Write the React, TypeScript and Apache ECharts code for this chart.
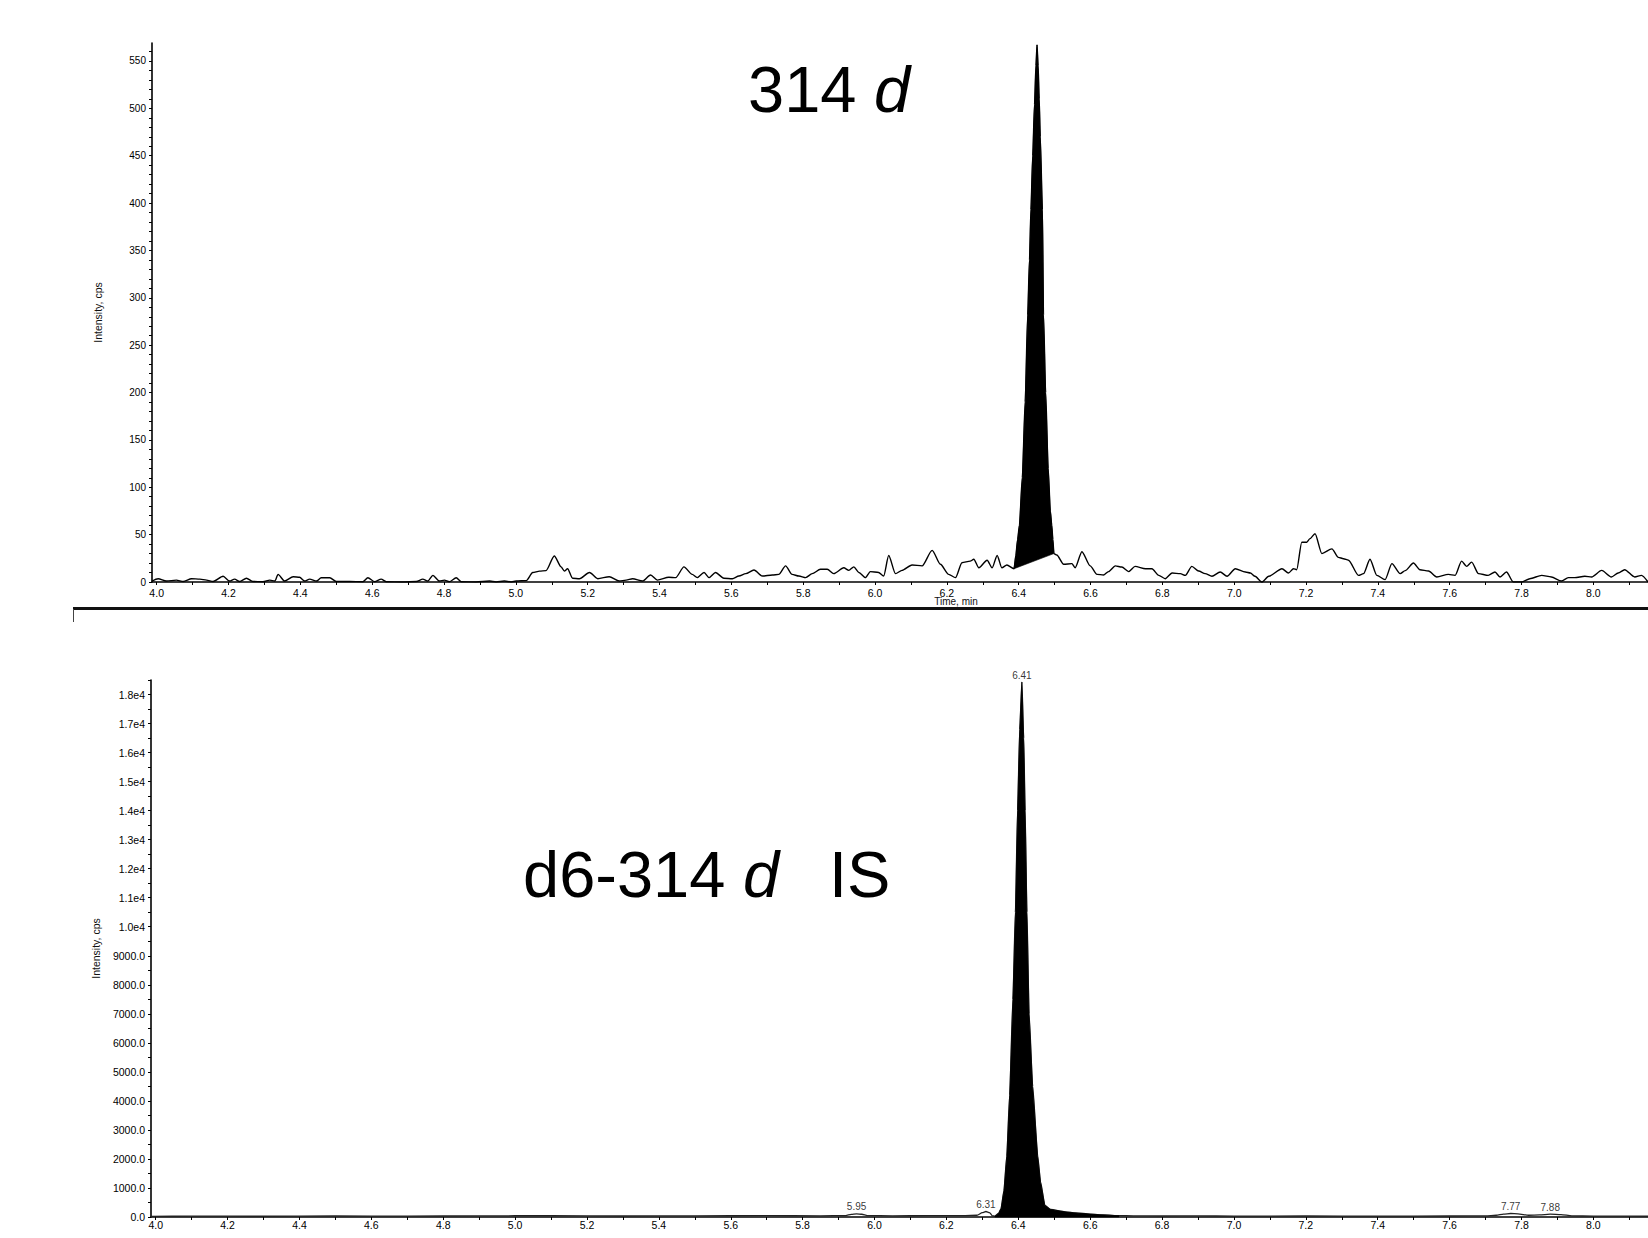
import React, { useEffect, useRef } from "react";
import * as echarts from "echarts";

// ---------- Top chromatogram (314 d) ----------
const topNoiseBefore: [number, number][] = [
  [3.987, 1], [4.004, 3.5], [4.027, 1], [4.055, 2], [4.074, 0.5], [4.097, 3.5], [4.12, 3], [4.139, 2],
  [4.157, 0.5], [4.185, 6], [4.203, 1], [4.217, 3], [4.231, 0.5], [4.25, 4], [4.268, 0.5], [4.296, 0.3],
  [4.315, 2], [4.329, 1], [4.338, 8], [4.356, 1], [4.38, 5.5], [4.398, 5], [4.412, 1], [4.426, 3],
  [4.445, 1], [4.458, 4.5], [4.482, 4.5], [4.5, 0.5], [4.537, 0.5], [4.574, 0.3], [4.588, 4.5], [4.607, 0.3],
  [4.625, 3], [4.639, 0.3], [4.686, 0], [4.723, 0.5], [4.741, 3], [4.755, 1], [4.769, 7], [4.787, 1],
  [4.801, 2], [4.815, 0.3], [4.834, 4.5], [4.848, 0.3], [4.889, 0], [4.927, 1], [4.945, 0], [4.968, 1],
  [4.987, 0], [5.001, 1], [5.029, 1.5], [5.047, 10], [5.066, 11.5], [5.084, 12], [5.107, 27.5], [5.126, 16],
  [5.135, 11.5], [5.144, 14], [5.158, 4], [5.177, 3.5], [5.205, 10], [5.228, 3.5], [5.26, 5.6], [5.288, 1],
  [5.307, 2], [5.325, 3.5], [5.353, 1], [5.375, 7.4], [5.394, 2], [5.426, 5], [5.445, 4.6], [5.468, 16],
  [5.491, 8], [5.505, 4.6], [5.524, 10], [5.538, 4.6], [5.556, 10], [5.579, 4], [5.603, 3.5], [5.621, 6.3],
  [5.64, 8.8], [5.663, 12.7], [5.686, 6.3], [5.714, 7.4], [5.732, 8], [5.751, 17], [5.769, 8], [5.788, 6.3],
  [5.807, 4.6], [5.825, 8.8], [5.848, 13.4], [5.867, 13.4], [5.885, 8.8], [5.913, 15], [5.927, 12.3], [5.941, 16],
  [5.955, 10], [5.973, 4.6], [5.987, 11], [6.01, 10], [6.024, 6.3], [6.038, 28], [6.057, 8.8], [6.075, 12.3],
  [6.103, 18], [6.131, 17], [6.159, 33.4], [6.182, 18.7], [6.205, 8.1], [6.224, 4.6], [6.242, 20.4], [6.265, 22],
  [6.275, 24], [6.289, 15], [6.312, 23], [6.326, 15], [6.34, 28], [6.353, 15], [6.367, 18],
];

const topPeak: [number, number][] = [
  [6.387, 14], [6.392, 28], [6.397, 45], [6.402, 60], [6.41, 110], [6.418, 190], [6.425, 282], [6.43, 340],
  [6.434, 393], [6.439, 450], [6.444, 504], [6.448, 545], [6.451, 567], [6.454, 545], [6.457, 510], [6.46, 470],
  [6.466, 393], [6.469, 282], [6.475, 200], [6.482, 120], [6.488, 75], [6.492, 60], [6.495, 45], [6.498, 30],
];

const topNoiseAfter: [number, number][] = [
  [6.506, 28.5], [6.525, 18.7], [6.548, 19.4], [6.557, 15], [6.576, 32], [6.599, 17], [6.618, 8.1], [6.636, 7.4],
  [6.65, 11], [6.669, 17], [6.687, 15.8], [6.706, 11], [6.724, 16.5], [6.753, 14], [6.771, 14], [6.79, 7],
  [6.808, 3.5], [6.827, 9.5], [6.85, 8.8], [6.864, 7], [6.882, 16.5], [6.901, 11.6], [6.919, 8.8], [6.938, 6],
  [6.961, 10.6], [6.98, 6], [7.003, 14], [7.031, 10.6], [7.045, 9.5], [7.058, 6], [7.077, 0], [7.096, 6],
  [7.133, 14], [7.151, 9.5], [7.165, 14], [7.174, 13], [7.188, 42], [7.202, 42], [7.211, 45.8], [7.225, 51],
  [7.244, 30], [7.272, 35], [7.29, 26], [7.304, 24.6], [7.318, 23], [7.346, 7], [7.36, 8.8], [7.378, 24],
  [7.397, 7], [7.42, 2.5], [7.439, 19.4], [7.462, 8.8], [7.476, 12], [7.499, 20], [7.517, 13], [7.541, 11.6],
  [7.564, 5.3], [7.596, 8], [7.615, 7], [7.633, 22], [7.647, 16.5], [7.661, 21], [7.68, 8.8], [7.707, 7],
  [7.726, 10.6], [7.74, 5.3], [7.758, 10.6], [7.777, 0], [7.8, 0], [7.823, 3.5], [7.856, 7], [7.883, 5.3],
  [7.911, 1], [7.93, 4.6], [7.948, 4.6], [7.976, 6], [7.995, 5.3], [8.023, 12.3], [8.05, 5.3], [8.069, 9.5],
  [8.087, 13], [8.115, 5.3], [8.134, 7], [8.152, 0],
];

// ---------- Bottom chromatogram (d6-314 d IS) ----------
const bottomBaseBefore: [number, number][] = [
  [3.987, 20], [4.1, 30], [4.3, 25], [4.5, 35], [4.7, 30], [4.9, 40], [5.1, 45], [5.3, 35], [5.5, 40],
  [5.7, 45], [5.85, 40], [5.92, 50], [5.935, 90], [5.95, 110], [5.965, 95], [5.98, 50], [6.05, 40],
  [6.15, 45], [6.25, 50], [6.285, 60], [6.3, 150], [6.31, 190], [6.32, 150], [6.328, 40],
];

const bottomPeak: [number, number][] = [
  [6.335, 30], [6.345, 120], [6.352, 290], [6.36, 900], [6.368, 2100], [6.376, 4200], [6.385, 7500],
  [6.392, 10500], [6.398, 14000], [6.404, 16800], [6.41, 18430], [6.415, 16500], [6.419, 14000],
  [6.424, 10500], [6.43, 7000], [6.44, 4500], [6.454, 2100], [6.462, 1200], [6.474, 400], [6.49, 260],
  [6.53, 180], [6.56, 140], [6.6, 100], [6.64, 70], [6.68, 45],
];

const bottomBaseAfter: [number, number][] = [
  [6.72, 40], [6.8, 35], [6.9, 40], [7.0, 30], [7.2, 35], [7.4, 30], [7.6, 35], [7.7, 40], [7.73, 60],
  [7.75, 100], [7.77, 120], [7.79, 110], [7.82, 60], [7.85, 70], [7.88, 100], [7.91, 85], [7.94, 40],
  [8.0, 30], [8.152, 25],
];

const bottomPeakLabels: [number, number][] = [
  [5.95, 110], [6.31, 190], [6.41, 18430], [7.77, 120], [7.88, 100],
];

// ---------- Axis ticks ----------
const xLabelValues = [4.0, 4.2, 4.4, 4.6, 4.8, 5.0, 5.2, 5.4, 5.6, 5.8, 6.0, 6.2, 6.4, 6.6, 6.8, 7.0, 7.2, 7.4, 7.6, 7.8, 8.0];
const topYLabelValues = [0, 50, 100, 150, 200, 250, 300, 350, 400, 450, 500, 550];
const bottomYLabelValues = [0, 1000, 2000, 3000, 4000, 5000, 6000, 7000, 8000, 9000, 10000, 11000, 12000, 13000, 14000, 15000, 16000, 17000, 18000];

const steps = (start: number, end: number, step: number) => {
  const out: number[] = [];
  const n = Math.round((end - start) / step);
  for (let i = 0; i <= n; i++) out.push(Math.round((start + i * step) * 1000) / 1000);
  return out;
};
const xTickValues = steps(4.0, 8.1, 0.1);
const topYTickValues = steps(0, 560, 10);
const bottomYTickValues = steps(0, 18500, 500);

const FONT = "Liberation Sans, Arial, sans-serif";

export default function App() {
  const ref = useRef<HTMLDivElement>(null);
  useEffect(() => {
    if (!ref.current) return;
    const chart = echarts.init(ref.current, null, { renderer: "svg" });

    const xAxisBase = (gridIndex: number, margin: number) => ({
      type: "value",
      gridIndex,
      min: 3.987,
      max: 8.152,
      axisLine: { show: true, onZero: false, lineStyle: { color: "#000", width: 1.6 } },
      axisTick: { show: true, customValues: xTickValues, length: 3, lineStyle: { color: "#000", width: 1 } },
      axisLabel: {
        customValues: xLabelValues,
        formatter: (v: number) => v.toFixed(1),
        fontSize: 10.5,
        color: "#000",
        fontFamily: FONT,
        margin,
      },
      splitLine: { show: false },
    });

    const peakPolygon = (pts: [number, number][], closeToZero: boolean) =>
      (_params: any, api: any) => {
        const coords = pts.map((p) => api.coord(p));
        if (closeToZero) {
          coords.unshift(api.coord([pts[0][0], 0]));
          coords.push(api.coord([pts[pts.length - 1][0], 0]));
        }
        return {
          type: "polygon",
          shape: { points: coords },
          style: { fill: "#000", stroke: "#000", lineWidth: 0.6 },
        };
      };

    const yName = {
      name: "Intensity, cps",
      nameLocation: "middle",
      nameGap: 49,
      nameTextStyle: { fontSize: 10.5, color: "#111", fontFamily: FONT },
    };

    const option: any = {
      animation: false,
      backgroundColor: "#fff",
      grid: [
        { left: 152, top: 43, width: 1496, height: 539 },
        { left: 151, top: 680, width: 1497, height: 537 },
      ],
      xAxis: [xAxisBase(0, 5), xAxisBase(1, 2)],
      yAxis: [
        {
          type: "value",
          gridIndex: 0,
          min: 0,
          max: 569,
          ...yName,
          axisLine: { show: true, lineStyle: { color: "#000", width: 1.6 } },
          axisTick: { show: true, customValues: topYTickValues, length: 3, lineStyle: { color: "#000" } },
          axisLabel: {
            customValues: topYLabelValues,
            formatter: (v: number) => String(v),
            fontSize: 10,
            color: "#000",
            fontFamily: FONT,
            margin: 6,
          },
          splitLine: { show: false },
        },
        {
          type: "value",
          gridIndex: 1,
          min: 0,
          max: 18500,
          ...yName,
          axisLine: { show: true, lineStyle: { color: "#000", width: 1.6 } },
          axisTick: { show: true, customValues: bottomYTickValues, length: 3, lineStyle: { color: "#000" } },
          axisLabel: {
            customValues: bottomYLabelValues,
            formatter: (v: number) => (v >= 10000 ? (v / 10000).toFixed(1) + "e4" : v.toFixed(1)),
            fontSize: 10.5,
            color: "#000",
            fontFamily: FONT,
            margin: 6,
          },
          splitLine: { show: false },
        },
      ],
      series: [
        {
          type: "line",
          name: "314 d",
          xAxisIndex: 0,
          yAxisIndex: 0,
          data: [...topNoiseBefore, ...topPeak, ...topNoiseAfter],
          showSymbol: false,
          smooth: 0.25,
          smoothMonotone: "x",
          lineStyle: { color: "#000", width: 1.4 },
          z: 2,
        },
        {
          type: "custom",
          name: "314 d peak",
          xAxisIndex: 0,
          yAxisIndex: 0,
          data: [[6.451, 567]],
          encode: { x: 0, y: 1 },
          renderItem: peakPolygon(topPeak, false),
          silent: true,
          z: 3,
        },
        {
          type: "line",
          name: "d6-314 d IS",
          xAxisIndex: 1,
          yAxisIndex: 1,
          data: [...bottomBaseBefore, ...bottomPeak, ...bottomBaseAfter],
          showSymbol: false,
          smooth: 0.2,
          smoothMonotone: "x",
          lineStyle: { color: "#222", width: 1.3 },
          z: 2,
        },
        {
          type: "custom",
          name: "d6-314 d IS peak",
          xAxisIndex: 1,
          yAxisIndex: 1,
          data: [[6.41, 18430]],
          encode: { x: 0, y: 1 },
          renderItem: peakPolygon(bottomPeak, true),
          silent: true,
          z: 3,
        },
        {
          type: "scatter",
          name: "peak labels",
          xAxisIndex: 1,
          yAxisIndex: 1,
          data: bottomPeakLabels,
          symbolSize: 0,
          itemStyle: { color: "transparent" },
          label: {
            show: true,
            position: "top",
            distance: 2,
            fontSize: 10,
            color: "#000",
            fontFamily: FONT,
            formatter: (p: any) => p.value[0].toFixed(2),
          },
          silent: true,
          z: 4,
        },
      ],
      graphic: [
        { type: "text", x: 748, y: 89, style: { text: "314", fontSize: 65, fontFamily: FONT, fill: "#000", align: "left", verticalAlign: "middle" } },
        { type: "text", x: 874, y: 89, style: { text: "d", fontSize: 65, fontStyle: "italic", fontFamily: FONT, fill: "#000", align: "left", verticalAlign: "middle" } },
        { type: "text", x: 523, y: 874, style: { text: "d6-314", fontSize: 65, fontFamily: FONT, fill: "#000", align: "left", verticalAlign: "middle" } },
        { type: "text", x: 743, y: 874, style: { text: "d", fontSize: 65, fontStyle: "italic", fontFamily: FONT, fill: "#000", align: "left", verticalAlign: "middle" } },
        { type: "text", x: 829, y: 874, style: { text: "IS", fontSize: 65, fontFamily: FONT, fill: "#000", align: "left", verticalAlign: "middle" } },
        { type: "line", z: 1, shape: { x1: 73, y1: 608.5, x2: 1648, y2: 608.5 }, style: { stroke: "#111", lineWidth: 3 } },
        { type: "line", z: 1, shape: { x1: 73.5, y1: 609, x2: 73.5, y2: 622 }, style: { stroke: "#444", lineWidth: 1 } },
        { type: "text", z: 10, x: 956, y: 601, style: { text: "Time, min", fontSize: 10, fontFamily: FONT, fill: "#111", align: "center", verticalAlign: "middle" } },
      ],
    };

    chart.setOption(option);
    return () => chart.dispose();
  }, []);

  return (
    <div
      ref={ref}
      style={{ position: "fixed", left: 0, top: 0, width: 1648, height: 1238, background: "#fff" }}
    />
  );
}
